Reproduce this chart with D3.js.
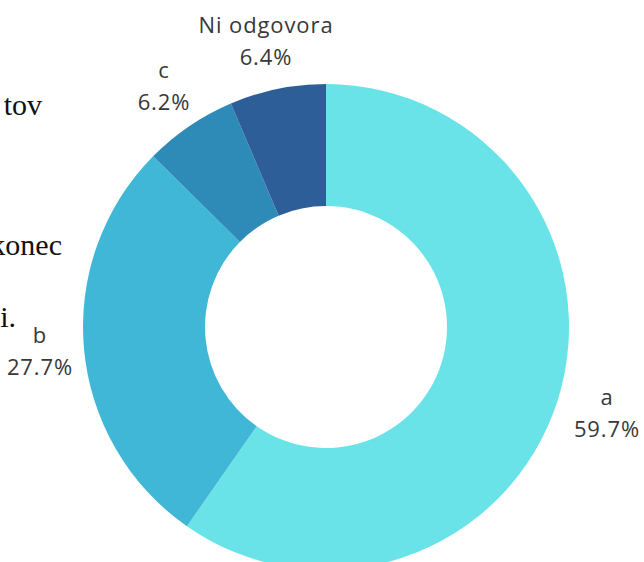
<!DOCTYPE html>
<html>
<head>
<meta charset="utf-8">
<script src="https://cdn.jsdelivr.net/npm/d3@7"></script>
<style>
  body { margin: 0; background: #fff; overflow: hidden; }
  svg { display: block; }
</style>
</head>
<body>
<div class="chart"></div>
<script>
// answer categories and shares in percent (clockwise from top)
var categories = ['a', 'b', 'c', 'Ni odgovora'];
var shares = [59.7, 27.7, 6.2, 6.4];
var colors = ['#69e3e8', '#40b7d6', '#2e8bb8', '#2d5e98'];

// leftover text from the surrounding document page (cut off at the left edge)
var pageLines = ['tov', 'konec', 'i.'];

var opts = {
  width: 644,
  height: 562,
  cx: 326,
  cy: 327,
  outer: 243,
  inner: 121
};

var svg = d3.select('.chart').append('svg')
            .attr('width', opts.width)
            .attr('height', opts.height);

// document text fragments, right aligned at their cut positions
var pagePos = [{x: 42, y: 115}, {x: 62, y: 255}, {x: 16, y: 327}];
svg.selectAll('text.page')
   .data(pageLines)
   .enter()
   .append('text')
     .attr('class', 'page')
     .attr('x', function(d, i){ return pagePos[i].x; })
     .attr('y', function(d, i){ return pagePos[i].y; })
     .attr('text-anchor', 'end')
     .attr('font-family', '"Liberation Serif", serif')
     .attr('font-size', 30)
     .attr('fill', '#111')
     .text(function(d){ return d; });

var pie = d3.pie().sort(null).value(function(d){ return d; });
var arcs = pie(shares);

var arc = d3.arc().innerRadius(opts.inner).outerRadius(opts.outer);

var g = svg.append('g')
           .attr('transform', 'translate(' + opts.cx + ',' + opts.cy + ')');

g.selectAll('path')
 .data(arcs)
 .enter()
 .append('path')
   .attr('d', arc)
   .attr('fill', function(d, i){ return colors[i]; });

// label anchors: name line baseline, value line below it
var labelPos = [
  {x: 607, y: 405},
  {x: 40, y: 343},
  {x: 164, y: 78},
  {x: 266, y: 33}
];

var labels = svg.selectAll('g.label')
                .data(arcs)
                .enter()
                .append('g')
                  .attr('class', 'label')
                  .attr('font-family', '"Open Sans", sans-serif')
                  .attr('font-size', 22)
                  .attr('letter-spacing', 0.9)
                  .attr('fill', '#383838')
                  .attr('text-anchor', 'middle');

labels.append('text')
      .attr('x', function(d, i){ return labelPos[i].x; })
      .attr('y', function(d, i){ return labelPos[i].y; })
      .text(function(d, i){ return categories[i]; });

labels.append('text')
      .attr('x', function(d, i){ return labelPos[i].x; })
      .attr('y', function(d, i){ return labelPos[i].y + 32; })
      .text(function(d){ return d.data.toFixed(1) + '%'; });
</script>
</body>
</html>
